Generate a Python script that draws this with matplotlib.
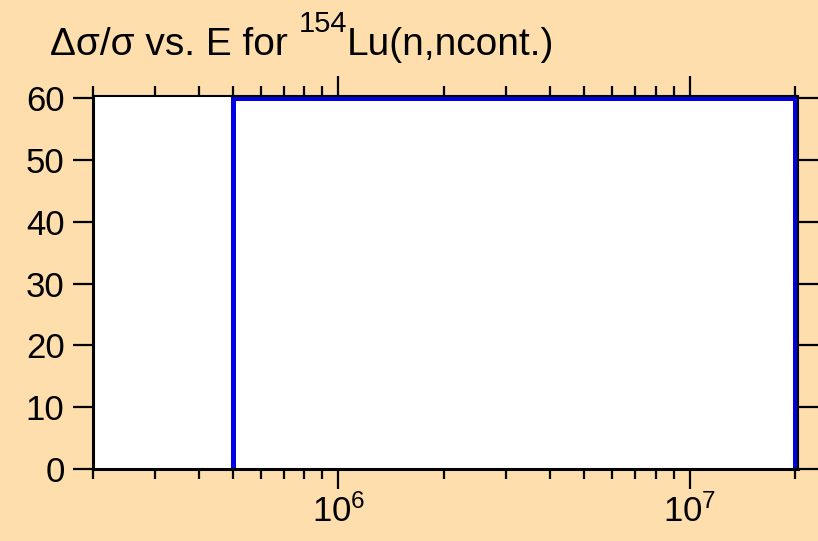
import numpy as np
import matplotlib
matplotlib.use("Agg")
import matplotlib.pyplot as plt
from matplotlib.ticker import LogLocator, LogFormatterMathtext, NullFormatter

plt.rcParams['font.family'] = ['Liberation Sans', 'DejaVu Sans']
plt.rcParams['mathtext.fontset'] = 'custom'
plt.rcParams['mathtext.rm'] = 'Liberation Sans'
plt.rcParams['mathtext.it'] = 'Liberation Sans:italic'

# group boundaries (eV) and relative uncertainty (%) per group
energy_edges = [5e5, 2e7]
rel_unc = [60]

x_limits = (2e5, 2.035e7)
y_limits = (0, 60.4)
y_ticks = [0, 10, 20, 30, 40, 50, 60]

bg = '#FFDEAD'
W, H = 818, 541
fig = plt.figure(figsize=(W / 100, H / 100), dpi=100, facecolor=bg)
ax = fig.add_axes([93 / W, 72 / H, 705 / W, 373 / H])

# step outline from 0 up, across each group, back to 0
xs = np.repeat(energy_edges, 2)
ys = np.concatenate([[0], np.repeat(rel_unc, 2), [0]])
ax.plot(xs, ys, color='#0000E6', linewidth=3.6, zorder=2, solid_joinstyle='miter')

ax.set_xscale('log')
ax.set_xlim(*x_limits)
ax.set_ylim(*y_limits)

ax.xaxis.set_major_locator(LogLocator(base=10))
ax.xaxis.set_major_formatter(LogFormatterMathtext())
ax.xaxis.set_minor_locator(LogLocator(base=10, subs=np.arange(2, 10)))
ax.xaxis.set_minor_formatter(NullFormatter())
ax.set_yticks(y_ticks)

for side, s in ax.spines.items():
    s.set_color('black')
    s.set_linewidth(2.2 if side in ('left', 'bottom') else 1.5)

ax.tick_params(axis='both', which='major', direction='out', length=14.5, width=1.6,
               labelsize=25, top=True, right=True, labeltop=False, labelright=False)
ax.tick_params(axis='x', which='major', pad=4)
ax.tick_params(axis='y', which='major', pad=6)
ax.tick_params(axis='x', which='minor', direction='out', length=7.5, width=1.6,
               top=True, bottom=True)

# title built from pieces so the superscript keeps its size
fig.canvas.draw()
r = fig.canvas.get_renderer()
x0 = 50 / W
yb = 1 - 55 / H
t1 = fig.text(x0, yb, 'Δσ/σ vs. E for ', fontsize=28, ha='left', va='baseline')
x1 = fig.transFigure.inverted().transform(
    (t1.get_window_extent(r).x1, 0))[0]
t2 = fig.text(x1, yb + 23 / H, '154', fontsize=21, ha='left', va='baseline')
x2 = fig.transFigure.inverted().transform(
    (t2.get_window_extent(r).x1, 0))[0]
fig.text(x2, yb, 'Lu(n,ncont.)', fontsize=28, ha='left', va='baseline')

fig.savefig('out.png', dpi=100, facecolor=bg)
